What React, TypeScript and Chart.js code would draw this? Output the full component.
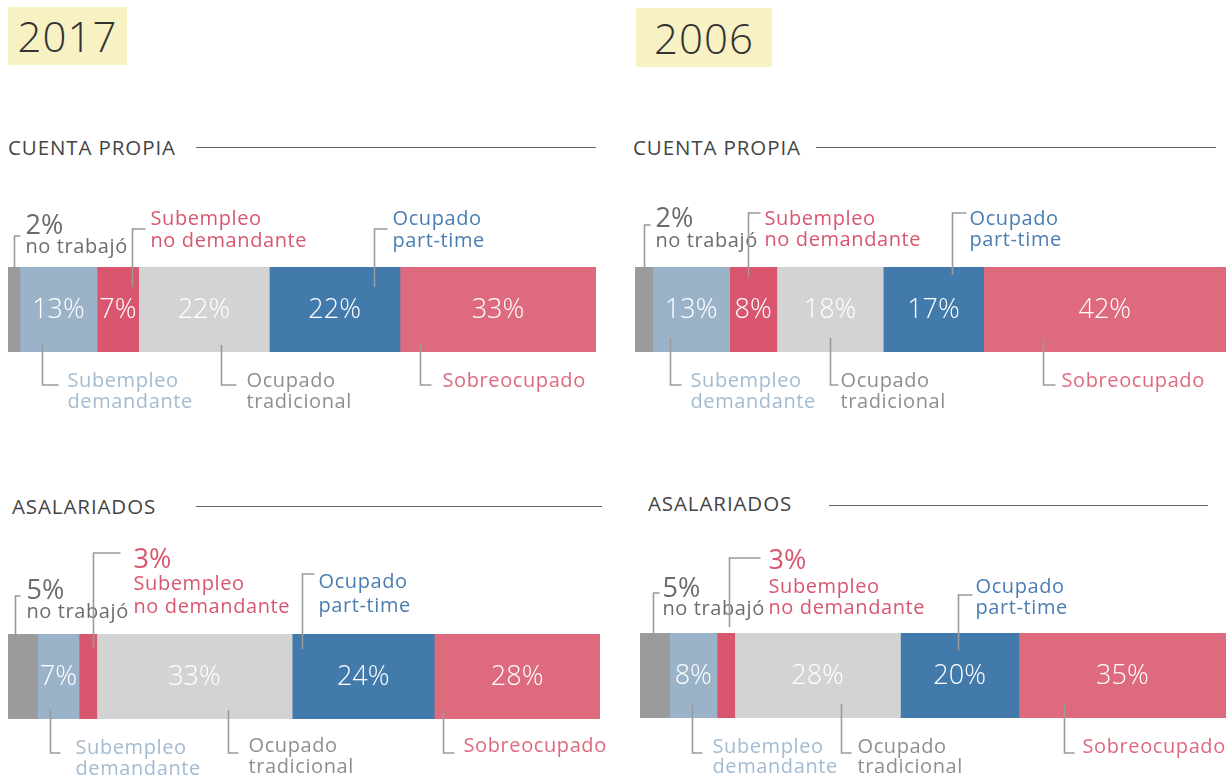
import React, { useEffect, useRef } from 'react';
import { Chart, registerables } from 'chart.js';

Chart.register(...registerables);

// ---------- DATA ----------
const categories = [
  'no trabajó',
  'Subempleo demandante',
  'Subempleo no demandante',
  'Ocupado tradicional',
  'Ocupado part-time',
  'Sobreocupado',
];
const categoryLines = [
  ['no trabajó'],
  ['Subempleo', 'demandante'],
  ['Subempleo', 'no demandante'],
  ['Ocupado', 'tradicional'],
  ['Ocupado', 'part-time'],
  ['Sobreocupado'],
];

const cuentaPropia2017 = [2, 13, 7, 22, 22, 33];
const cuentaPropia2017Labels = ['2%', '13%', '7%', '22%', '22%', '33%'];
const asalariados2017 = [5, 7, 3, 33, 24, 28];
const asalariados2017Labels = ['5%', '7%', '3%', '33%', '24%', '28%'];
const cuentaPropia2006 = [3, 13, 8, 18, 17, 41];
const cuentaPropia2006Labels = ['2%', '13%', '8%', '18%', '17%', '42%'];
const asalariados2006 = [5, 8, 3, 28, 20, 35];
const asalariados2006Labels = ['5%', '8%', '3%', '28%', '20%', '35%'];

const years = ['2017', '2006'];
const sections = ['CUENTA PROPIA', 'ASALARIADOS'];

// ---------- STYLES ----------
const FONT = "'Open Sans', sans-serif";
const segColors = ['#9a9b9d', '#9bb3c9', '#d9566f', '#d3d3d3', '#427aab', '#de6a7e'];
const textColors = ['#6b6c6e', '#a3bbd1', '#d9566f', '#8f8f8f', '#4a7db1', '#de6a7e'];
const leaderColor = '#9a9a9a';

type Ann = {
  seg: number;
  side: 'top' | 'bottom';
  t: number;
  y1: number;
  y2: number;
  hook: number;
  dx: number;
  base: number[];
  valueLine?: boolean;
};

type Panel = {
  values: number[];
  labels: string[];
  inside: boolean[];
  anns: Ann[];
  left: number;
  top: number;
  width: number;
  height: number;
  pad: { left: number; right: number; top: number; bottom: number };
};

const panels: Panel[] = [
  {
    values: cuentaPropia2017,
    labels: cuentaPropia2017Labels,
    inside: [false, true, true, true, true, true],
    left: 0, top: 160, width: 620, height: 260,
    pad: { left: 8, right: 24, top: 107, bottom: 68 },
    anns: [
      { seg: 0, side: 'top', t: 0.54, y1: -31, y2: 18, hook: 6, dx: 11, base: [-33, -14], valueLine: true },
      { seg: 2, side: 'top', t: 0.85, y1: -38, y2: 20, hook: 13, dx: 18, base: [-42, -20] },
      { seg: 4, side: 'top', t: 0.8, y1: -38, y2: 20, hook: 13, dx: 18, base: [-42, -20] },
      { seg: 1, side: 'bottom', t: 0.29, y1: -7, y2: 33, hook: 16, dx: 25, base: [35, 56] },
      { seg: 3, side: 'bottom', t: 0.63, y1: -7, y2: 33, hook: 15, dx: 25, base: [35, 56] },
      { seg: 5, side: 'bottom', t: 0.1, y1: -7, y2: 33, hook: 11, dx: 22, base: [35] },
    ],
  },
  {
    values: cuentaPropia2006,
    labels: cuentaPropia2006Labels,
    inside: [false, true, true, true, true, true],
    left: 620, top: 160, width: 610, height: 260,
    pad: { left: 15, right: 4, top: 107, bottom: 68 },
    anns: [
      { seg: 0, side: 'top', t: 0.5, y1: -42, y2: 13, hook: 6, dx: 11, base: [-40, -20], valueLine: true },
      { seg: 2, side: 'top', t: 0.38, y1: -54, y2: 10, hook: 12, dx: 16, base: [-42, -21] },
      { seg: 4, side: 'top', t: 0.68, y1: -54, y2: 8, hook: 14, dx: 17, base: [-42, -21] },
      { seg: 1, side: 'bottom', t: 0.22, y1: -14, y2: 33, hook: 11, dx: 20, base: [35, 56] },
      { seg: 3, side: 'bottom', t: 0.5, y1: -14, y2: 33, hook: 8, dx: 10, base: [35, 56] },
      { seg: 5, side: 'bottom', t: 0.245, y1: -14, y2: 33, hook: 12, dx: 18, base: [35] },
    ],
  },
  {
    values: asalariados2017,
    labels: asalariados2017Labels,
    inside: [false, true, false, true, true, true],
    left: 0, top: 520, width: 620, height: 256,
    pad: { left: 8, right: 20, top: 114, bottom: 57 },
    anns: [
      { seg: 0, side: 'top', t: 0.22, y1: -38, y2: 16, hook: 5, dx: 11, base: [-35, -16], valueLine: true },
      { seg: 2, side: 'top', t: 0.78, y1: -81, y2: 14, hook: 27, dx: 40, base: [-66, -44, -21], valueLine: true },
      { seg: 4, side: 'top', t: 0.07, y1: -60, y2: 15, hook: 12, dx: 16, base: [-46, -22] },
      { seg: 1, side: 'bottom', t: 0.3, y1: -9, y2: 34, hook: 10, dx: 25, base: [35, 56] },
      { seg: 3, side: 'bottom', t: 0.67, y1: -9, y2: 34, hook: 10, dx: 20, base: [33, 54] },
      { seg: 5, side: 'bottom', t: 0.055, y1: -9, y2: 34, hook: 11, dx: 20, base: [33] },
    ],
  },
  {
    values: asalariados2006,
    labels: asalariados2006Labels,
    inside: [false, true, false, true, true, true],
    left: 620, top: 520, width: 610, height: 256,
    pad: { left: 20, right: 4, top: 113, bottom: 58 },
    anns: [
      { seg: 0, side: 'top', t: 0.45, y1: -40, y2: 14, hook: 6, dx: 9, base: [-36, -18], valueLine: true },
      { seg: 2, side: 'top', t: 0.68, y1: -75, y2: -6, hook: 31, dx: 39, base: [-64, -40, -19], valueLine: true },
      { seg: 4, side: 'top', t: 0.49, y1: -38, y2: 17, hook: 14, dx: 17, base: [-40, -19] },
      { seg: 1, side: 'bottom', t: 0.48, y1: -14, y2: 35, hook: 10, dx: 20, base: [35, 55] },
      { seg: 3, side: 'bottom', t: 0.64, y1: -14, y2: 35, hook: 10, dx: 16, base: [35, 55] },
      { seg: 5, side: 'bottom', t: 0.22, y1: -14, y2: 35, hook: 10, dx: 18, base: [35] },
    ],
  },
];

function makePlugin(panel: Panel) {
  return {
    id: 'segmentAnnotations',
    afterDatasetsDraw(chart: any) {
      const { ctx, chartArea } = chart;
      const xs = chart.scales.x;
      const T = chartArea.top;
      const B = chartArea.bottom;
      const starts: number[] = [];
      let cum = 0;
      panel.values.forEach((v) => {
        starts.push(cum);
        cum += v;
      });
      ctx.save();
      // inside labels
      ctx.font = `300 27px ${FONT}`;
      ctx.fillStyle = '#ffffff';
      ctx.textAlign = 'center';
      ctx.textBaseline = 'middle';
      panel.values.forEach((v, i) => {
        if (!panel.inside[i]) return;
        const cx = xs.getPixelForValue(starts[i] + v / 2);
        ctx.fillText(panel.labels[i], cx, (T + B) / 2 + 1);
      });
      // annotations
      ctx.textAlign = 'left';
      ctx.textBaseline = 'alphabetic';
      panel.anns.forEach((a) => {
        const v = panel.values[a.seg];
        const x = Math.round(xs.getPixelForValue(starts[a.seg] + a.t * v)) + 0.5;
        ctx.strokeStyle = leaderColor;
        ctx.lineWidth = 1.6;
        ctx.beginPath();
        if (a.side === 'top') {
          ctx.moveTo(x + a.hook, T + a.y1);
          ctx.lineTo(x, T + a.y1);
          ctx.lineTo(x, T + a.y2);
        } else {
          ctx.moveTo(x, B + a.y1);
          ctx.lineTo(x, B + a.y2);
          ctx.lineTo(x + a.hook, B + a.y2);
        }
        ctx.stroke();
        const lines: string[] = [];
        if (a.valueLine) lines.push(panel.labels[a.seg]);
        categoryLines[a.seg].forEach((l) => lines.push(l));
        const ref = a.side === 'top' ? T : B;
        lines.forEach((txt, li) => {
          const isValue = a.valueLine && li === 0;
          (ctx as any).letterSpacing = isValue ? '0px' : '0.6px';
          ctx.font = isValue ? `400 27px ${FONT}` : `400 20px ${FONT}`;
          ctx.fillStyle = textColors[a.seg];
          ctx.fillText(txt, x + a.dx, ref + a.base[li]);
        });
      });
      ctx.restore();
    },
  };
}

function BarPanel({ panel }: { panel: Panel }) {
  const ref = useRef<HTMLCanvasElement | null>(null);
  useEffect(() => {
    if (!ref.current) return;
    const total = panel.values.reduce((s, v) => s + v, 0);
    const chart = new Chart(ref.current, {
      type: 'bar',
      data: {
        labels: [''],
        datasets: panel.values.map((v, i) => ({
          label: categories[i],
          data: [v],
          backgroundColor: segColors[i],
          borderWidth: 0,
          barPercentage: 1,
          categoryPercentage: 1,
        })),
      },
      options: {
        indexAxis: 'y',
        responsive: false,
        animation: false,
        devicePixelRatio: 1,
        layout: { padding: panel.pad },
        plugins: { legend: { display: false }, tooltip: { enabled: false } },
        scales: {
          x: { stacked: true, display: false, min: 0, max: total },
          y: { stacked: true, display: false },
        },
      },
      plugins: [makePlugin(panel)],
    } as any);
    return () => chart.destroy();
  }, [panel]);
  return (
    <canvas
      ref={ref}
      width={panel.width}
      height={panel.height}
      style={{ position: 'absolute', left: panel.left, top: panel.top, width: panel.width, height: panel.height }}
    />
  );
}

const yearBoxes = [
  { left: 8, top: 7, width: 119, height: 58 },
  { left: 636, top: 8, width: 136, height: 59 },
];
const sectionHeads = [
  { text: 0, left: 8, cy: 147, lineLeft: 196, lineRight: 596, lineY: 147 },
  { text: 0, left: 633, cy: 147, lineLeft: 816, lineRight: 1216, lineY: 147 },
  { text: 1, left: 12, cy: 506, lineLeft: 196, lineRight: 602, lineY: 506 },
  { text: 1, left: 648, cy: 503, lineLeft: 829, lineRight: 1208, lineY: 505 },
];

export default function App() {
  useEffect(() => {
    document.body.style.margin = '0';
  }, []);
  return (
    <div style={{ position: 'absolute', left: 0, top: 0, width: 1230, height: 776, overflow: 'hidden', background: '#fff', fontFamily: FONT }}>
      {yearBoxes.map((b, i) => (
        <div
          key={'y' + i}
          style={{
            position: 'absolute', left: b.left, top: b.top, width: b.width, height: b.height,
            background: '#f8f1c4', color: '#333', fontSize: 42, fontWeight: 300,
            lineHeight: b.height + 'px', textAlign: 'center', letterSpacing: 1,
          }}
        >
          {years[i]}
        </div>
      ))}
      {sectionHeads.map((h, i) => (
        <React.Fragment key={'s' + i}>
          <div
            style={{
              position: 'absolute', left: h.left, top: h.cy - 14, height: 28, lineHeight: '28px',
              fontSize: 20.5, color: '#444', letterSpacing: 0.9, whiteSpace: 'nowrap',
            }}
          >
            {sections[h.text]}
          </div>
          <div
            style={{
              position: 'absolute', left: h.lineLeft, top: h.lineY, width: h.lineRight - h.lineLeft,
              height: 0, borderTop: '1.5px solid #666',
            }}
          />
        </React.Fragment>
      ))}
      {panels.map((p, i) => (
        <BarPanel key={'p' + i} panel={p} />
      ))}
    </div>
  );
}
